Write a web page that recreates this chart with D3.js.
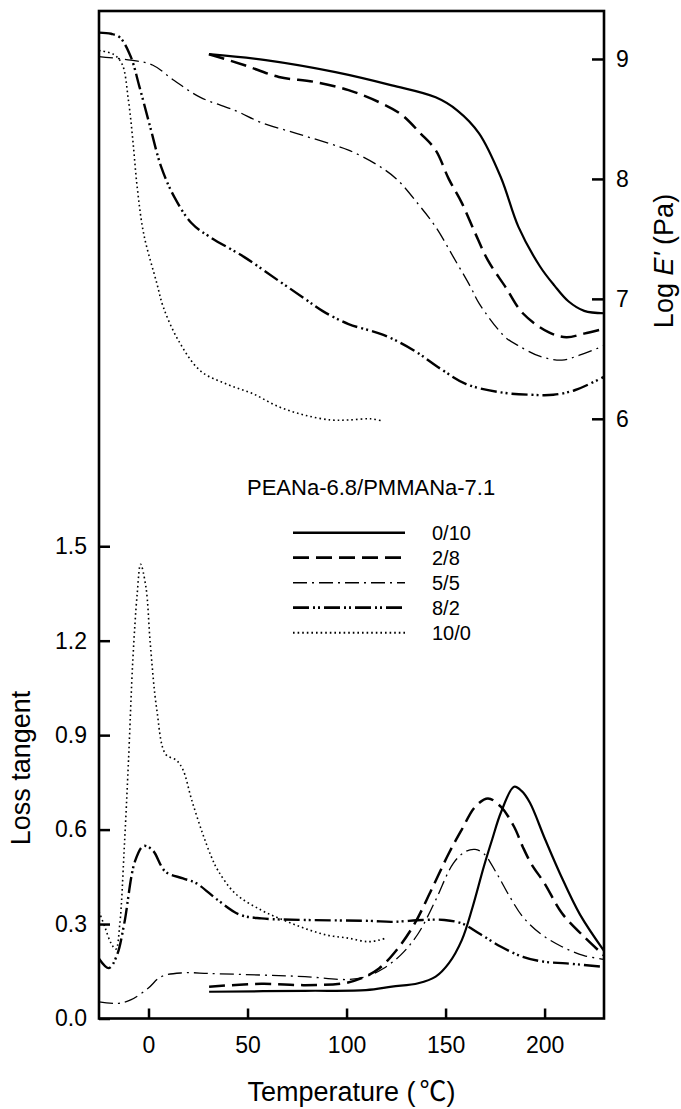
<!DOCTYPE html>
<html>
<head>
<meta charset="utf-8">
<script src="https://cdn.jsdelivr.net/npm/d3@7"></script>
<style>
  html, body { margin: 0; padding: 0; background: #fff; }
  svg { display: block; font-family: "Liberation Sans", Arial, "Noto Sans CJK SC", sans-serif; }
</style>
</head>
<body>
<svg id="chart" width="681" height="1109"></svg>
<script>
// ---- data (temperature in °C, value) ----
const seriesNames = ["0/10", "2/8", "5/5", "8/2", "10/0"];
const legendTitle = "PEANa-6.8/PMMANa-7.1";

// Log E' (Pa), right axis
const logE_0_10 = [[30.5,9.04],[59.2,8.99],[94.4,8.89],[122.9,8.78],[145,8.68],[156,8.57],[166.9,8.38],[178,8.01],[186.8,7.60],[197.7,7.27],[205,7.11],[212,6.98],[220,6.90],[230,6.88]];
const logE_2_8 = [[30.5,9.04],[48.2,8.95],[65.8,8.85],[83.4,8.81],[101,8.74],[116.4,8.64],[127.4,8.54],[137.3,8.38],[145,8.24],[151.6,8.0],[158.2,7.80],[164.9,7.55],[171.4,7.32],[180.2,7.10],[189,6.88],[202.2,6.72],[211,6.68],[219.9,6.71],[230,6.75]];
const logE_5_5 = [[-25,9.02],[-9,8.99],[2,8.95],[13,8.82],[26.2,8.68],[43.8,8.57],[57,8.47],[74.6,8.38],[92.2,8.29],[101,8.24],[114.2,8.13],[125.2,8.0],[136.2,7.79],[145,7.60],[153.9,7.35],[162.6,7.10],[167,6.96],[180.2,6.68],[186.8,6.61],[197.8,6.52],[208.8,6.49],[217.6,6.53],[230,6.61]];
const logE_8_2 = [[-25,9.22],[-18.9,9.21],[-14.5,9.18],[-9,9.02],[-4.6,8.77],[0.9,8.43],[6.4,8.10],[13,7.85],[21.8,7.63],[30.6,7.52],[48.2,7.35],[65.8,7.15],[79,7.0],[87.8,6.90],[101,6.79],[118.6,6.70],[134,6.57],[147.2,6.42],[160.4,6.29],[178,6.22],[193.4,6.20],[204.4,6.20],[215.5,6.24],[230,6.35]];
const logE_10_0 = [[-25,9.07],[-17.8,9.04],[-13.4,8.96],[-10.1,8.65],[-7.9,8.32],[-5.7,7.93],[-2.4,7.54],[4.2,7.13],[7.5,6.93],[15.2,6.65],[26.2,6.40],[39.4,6.29],[52.6,6.21],[65.8,6.10],[79,6.03],[92.2,5.99],[101,5.99],[112,6.0],[118.6,5.98]];

// Loss tangent, left axis
const tan_0_10 = [[30.6,0.085],[79,0.088],[109.8,0.09],[122.9,0.101],[136.2,0.112],[145,0.133],[151.6,0.175],[158.2,0.249],[163.7,0.355],[169.3,0.482],[173.6,0.57],[178,0.655],[184.6,0.736],[188.5,0.722],[192.6,0.685],[200.2,0.57],[207.8,0.46],[217.9,0.33],[230,0.215]];
const tan_2_8 = [[30.6,0.101],[57,0.11],[79,0.106],[98.8,0.112],[107.6,0.128],[116.4,0.159],[125.2,0.217],[134,0.297],[142.8,0.408],[151.6,0.524],[158.2,0.6],[164.9,0.672],[171.4,0.699],[178,0.672],[184.6,0.609],[189,0.545],[193.4,0.49],[200,0.429],[208.8,0.334],[219.9,0.26],[230,0.2]];
const tan_5_5 = [[-25,0.053],[-15.6,0.048],[-9,0.059],[-0.2,0.096],[6.4,0.133],[17.4,0.145],[30.6,0.143],[57,0.138],[79,0.133],[101,0.124],[109.8,0.133],[118.6,0.159],[127.4,0.202],[136.2,0.27],[145,0.376],[153.9,0.493],[160,0.53],[164.9,0.537],[169.3,0.524],[175.8,0.461],[182.4,0.387],[189,0.323],[197.8,0.27],[208.8,0.228],[219.9,0.2],[230,0.188]];
const tan_8_2 = [[-25,0.19],[-20,0.16],[-16,0.2],[-12.3,0.30],[-6.8,0.50],[-2.5,0.548],[2,0.535],[8.6,0.466],[17.4,0.445],[24,0.43],[35,0.376],[46,0.33],[57,0.318],[79,0.313],[112,0.31],[122.9,0.307],[138.4,0.313],[149.4,0.313],[158.2,0.302],[167,0.27],[178,0.228],[189,0.196],[200,0.18],[211,0.175],[230,0.164]];
const tan_10_0 = [[-25,0.34],[-22,0.29],[-19,0.24],[-16.5,0.22],[-14.5,0.30],[-12.3,0.535],[-10.1,0.82],[-7.9,1.14],[-5.7,1.35],[-4,1.443],[-1.3,1.37],[0.9,1.19],[4.2,0.98],[8.6,0.84],[14.1,0.82],[17.4,0.79],[21.8,0.694],[27.3,0.588],[31.7,0.514],[35,0.471],[43.8,0.397],[57,0.344],[68,0.313],[79,0.286],[90,0.265],[101,0.255],[110.9,0.244],[116.4,0.249],[119.7,0.255]];

const xTicks = [0, 50, 100, 150, 200];
const leftTicks = [0.0, 0.3, 0.6, 0.9, 1.2, 1.5];
const rightTicks = [6, 7, 8, 9];

// ---- styles ----
const styles = {
  "0/10": { w: 2.2, dash: null },
  "2/8":  { w: 2.5, dash: "16,7" },
  "5/5":  { w: 1.3, dash: "14,5,2,5" },
  "8/2":  { w: 2.4, dash: "16,4,2,3,2,4" },
  "10/0": { w: 1.6, dash: "1.6,3" }
};
const modSeries = { "0/10": logE_0_10, "2/8": logE_2_8, "5/5": logE_5_5, "8/2": logE_8_2, "10/0": logE_10_0 };
const tanSeries = { "0/10": tan_0_10, "2/8": tan_2_8, "5/5": tan_5_5, "8/2": tan_8_2, "10/0": tan_10_0 };

const L = 99, R = 604, T = 11, B = 1018.5;
const svg = d3.select("#chart");

const x = d3.scaleLinear().domain([-25, 230]).range([L, R]);
const yL = d3.scaleLinear().domain([0, 3.2]).range([B, T]);
const yR = d3.scaleLinear().domain([1, 9.4]).range([B, T]);

const curve = d3.curveCatmullRom.alpha(0.5);
const lineMod = d3.line().x(d => x(d[0])).y(d => yR(d[1])).curve(curve);
const lineTan = d3.line().x(d => x(d[0])).y(d => yL(d[1])).curve(curve);

const gCurves = svg.append("g");
seriesNames.forEach(n => {
  const s = styles[n];
  [[modSeries[n], lineMod], [tanSeries[n], lineTan]].forEach(([data, gen]) => {
    gCurves.append("path")
      .attr("d", gen(data))
      .attr("fill", "none")
      .attr("stroke", "#000")
      .attr("stroke-width", s.w)
      .attr("stroke-dasharray", s.dash)
      .attr("stroke-linejoin", "round");
  });
});

// ---- axes ----
const fs = 23;
const gx = svg.append("g").attr("transform", `translate(0,${B})`)
  .call(d3.axisBottom(x).tickValues(xTicks).tickSizeInner(-10).tickSizeOuter(0).tickPadding(18));
const gl = svg.append("g").attr("transform", `translate(${L},0)`)
  .call(d3.axisLeft(yL).tickValues(leftTicks).tickFormat(d3.format(".1f")).tickSizeInner(-11).tickSizeOuter(0).tickPadding(12));
const gr = svg.append("g").attr("transform", `translate(${R},0)`)
  .call(d3.axisRight(yR).tickValues(rightTicks).tickFormat(d3.format("d")).tickSizeInner(-12).tickSizeOuter(0).tickPadding(12));
[gx, gl, gr].forEach(g => {
  g.select(".domain").remove();
  g.selectAll(".tick line").attr("stroke", "#000").attr("stroke-width", 2.5);
  g.selectAll(".tick text").attr("fill", "#000").style("font-size", fs + "px")
    .style("font-family", '"Liberation Sans", Arial, sans-serif');
});

svg.append("rect")
  .attr("x", L).attr("y", T).attr("width", R - L).attr("height", B - T)
  .attr("fill", "none").attr("stroke", "#000").attr("stroke-width", 2.6);

// ---- axis titles ----
const xt = svg.append("text")
  .attr("x", (L + R) / 2).attr("y", 1101)
  .attr("text-anchor", "middle").style("font-size", "27px");
xt.append("tspan").text("Temperature (");
xt.append("tspan").attr("dx", 4).style("font-family", '"Noto Sans CJK SC", sans-serif').text("℃");
xt.append("tspan").text(")");

svg.append("text")
  .attr("transform", "translate(30,768) rotate(-90)")
  .attr("text-anchor", "middle").style("font-size", "27px")
  .text("Loss tangent");

const rt = svg.append("text")
  .attr("transform", "translate(673,261) rotate(-90)")
  .attr("text-anchor", "middle").style("font-size", "27px");
rt.append("tspan").text("Log ");
rt.append("tspan").style("font-style", "italic").text("E'");
rt.append("tspan").text(" (Pa)");

// ---- legend ----
svg.append("text")
  .attr("x", 247).attr("y", 495)
  .style("font-size", "22px")
  .text(legendTitle);

const lg = svg.append("g");
seriesNames.forEach((n, i) => {
  const yy = 532.7 + i * 25;
  const s = styles[n];
  lg.append("line")
    .attr("x1", 293).attr("x2", 405).attr("y1", yy).attr("y2", yy)
    .attr("stroke", "#000").attr("stroke-width", s.w + 0.3)
    .attr("stroke-dasharray", s.dash);
  lg.append("text")
    .attr("x", 432).attr("y", yy + 7.5)
    .style("font-size", "20px")
    .text(n);
});
</script>
</body>
</html>
